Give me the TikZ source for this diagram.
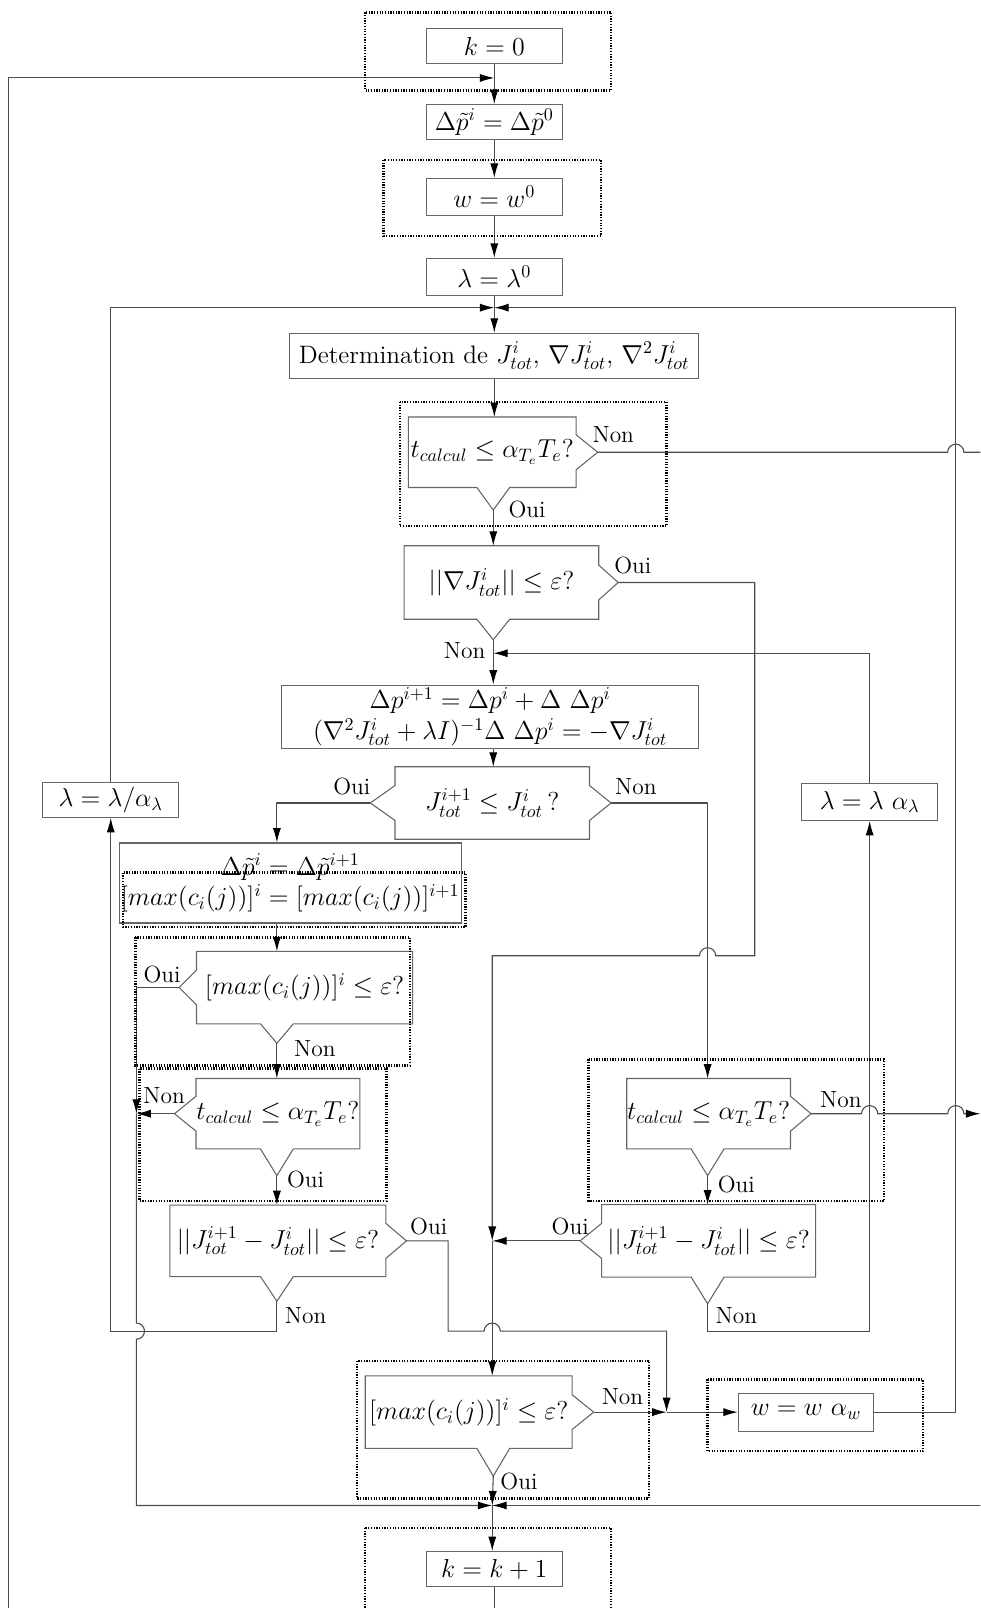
\documentclass[tikz,border=0pt]{standalone}
\usepackage{amsmath,amssymb}
\usetikzlibrary{arrows.meta}

% outline of a test box: pointers on the right, bottom and left side
\newcommand{\decout}[5]{%
  \path (#1.south -| #2) coordinate (#1bb);
  \coordinate (#1r) at ([xshift=#3*\pixu]#1.east);
  \coordinate (#1b) at ([yshift=-#4*\pixu]#1bb);
  \coordinate (#1l) at ([xshift=-#5*\pixu]#1.west);
  \draw[decline] (#1.north west) -- (#1.north east)
    -- ([yshift=17*\pixu]#1.east) -- (#1r) -- ([yshift=-17*\pixu]#1.east)
    -- (#1.south east) -- ([xshift=16*\pixu]#1bb) -- (#1b) -- ([xshift=-16*\pixu]#1bb)
    -- (#1.south west) -- ([yshift=-17*\pixu]#1.west) -- (#1l) -- ([yshift=17*\pixu]#1.west)
    -- cycle;}

\begin{document}
\begin{tikzpicture}[x=0.02cm, y=-0.02cm,
    txt/.style={font=\fontsize{14}{17}\selectfont},
    box/.style={txt, draw=black!60, line width=0.6pt, inner sep=1pt, align=center},
    dec/.style={txt, inner sep=0pt},
    decline/.style={draw=black!60, line width=0.6pt},
    lbl/.style={font=\fontsize{13}{15}\selectfont, inner sep=0pt},
    frame/.style={draw=black, line width=1.4pt, dash pattern=on 0.7pt off 0.8pt},
    line/.style={draw=black!70, line width=0.6pt},
    arr/.style={draw=black!70, line width=0.6pt, -{Latex[length=8pt,width=4.5pt,color=black]}}
]
% Dimensions
\def\pixu{0.02cm} % one pixel
\def\jr{4.5pt}    % jump radius

\useasboundingbox (0,0) rectangle (956,1568);
\clip (0,0) rectangle (956,1568);

% Columns and junctions
\coordinate (cL) at (270,0);
\coordinate (cM) at (481,0);
\coordinate (cR) at (690,0);
\coordinate (jk) at (482,76);
\coordinate (j1) at (482,300);
\coordinate (j3) at (481,637);
\coordinate (j2) at (480,1210);
\coordinate (j4) at (133,1086);
\coordinate (j6) at (650,1377);
\coordinate (j5) at (480,1468);
\coordinate (eT1) at (960,441);
\coordinate (eT3) at (956,1086);
\coordinate (eB) at (960,1468);

% Boxes
\node[box, minimum width=133*\pixu, minimum height=34*\pixu] (k0) at (482,45) {$k=0$};
\node[box, minimum width=133*\pixu, minimum height=34*\pixu] (dp0) at (482,119) {$\Delta\tilde{p}^i=\Delta\tilde{p}^0$};
\node[box, minimum width=133*\pixu, minimum height=36*\pixu] (w0) at (482,192) {$w=w^0$};
\node[box, minimum width=133*\pixu, minimum height=36*\pixu] (l0) at (482,270) {$\lambda=\lambda^0$};
\node[box, minimum width=399*\pixu, minimum height=44*\pixu] (det) at (482,347)
  {Determination de $J^i_{tot}$, $\nabla J^i_{tot}$, $\nabla^2 J^i_{tot}$};
\node[box, minimum width=407*\pixu, minimum height=62*\pixu] (newt) at (478,699)
  {$\Delta p^{i+1}=\Delta p^i+\Delta\ \Delta p^i$\\
   $(\nabla^2 J^i_{tot}+\lambda I)^{-1}\Delta\ \Delta p^i=-\nabla J^i_{tot}$};
\node[box, minimum width=332*\pixu, minimum height=78*\pixu] (upd) at (283,861)
  {$\Delta\tilde{p}^i=\Delta\tilde{p}^{i+1}$\\
   $[max(c_i(j))]^i=[max(c_i(j))]^{i+1}$};
\node[box, minimum width=133*\pixu, minimum height=34*\pixu] (lamD) at (108,780) {$\lambda=\lambda/\alpha_\lambda$};
\node[box, minimum width=133*\pixu, minimum height=36*\pixu] (lamM) at (848,782) {$\lambda=\lambda\ \alpha_\lambda$};
\node[box, minimum width=132*\pixu, minimum height=37*\pixu] (upw) at (786,1377) {$w=w\ \alpha_w$};
\node[box, minimum width=133*\pixu, minimum height=34*\pixu] (kk) at (482,1530) {$k=k+1$};

% Tests
\node[dec, minimum width=163*\pixu, minimum height=68*\pixu] (dT1) at (480,441) {$t_{calcul}\leq\alpha_{T_e}T_e?$};
\decout{dT1}{cM}{21}{22}{0}
\node[dec, minimum width=189*\pixu, minimum height=71*\pixu] (dG) at (489,568) {$||\nabla J^i_{tot}||\leq\varepsilon?$};
\decout{dG}{cM}{19}{20}{0}
\node[dec, minimum width=189*\pixu, minimum height=70*\pixu] (dJ) at (480,783) {$J^{i+1}_{tot}\leq J^i_{tot}\,?$};
\decout{dJ}{cM}{21}{0}{24}
\node[dec, minimum width=210*\pixu, minimum height=70*\pixu] (dM1) at (297,963) {$[max(c_i(j))]^i\leq\varepsilon?$};
\decout{dM1}{cL}{0}{19}{17}
\node[dec, minimum width=158*\pixu, minimum height=68*\pixu] (dT2) at (271,1086) {$t_{calcul}\leq\alpha_{T_e}T_e?$};
\decout{dT2}{cL}{0}{26}{21}
\node[dec, minimum width=210*\pixu, minimum height=69*\pixu] (dD1) at (271,1210) {$||J^{i+1}_{tot}-J^i_{tot}||\leq\varepsilon?$};
\decout{dD1}{cL}{20}{24}{0}
\node[dec, minimum width=159*\pixu, minimum height=68*\pixu] (dT3) at (691,1086) {$t_{calcul}\leq\alpha_{T_e}T_e?$};
\decout{dT3}{cR}{20}{26}{0}
\node[dec, minimum width=208*\pixu, minimum height=70*\pixu] (dD2) at (691,1210) {$||J^{i+1}_{tot}-J^i_{tot}||\leq\varepsilon?$};
\decout{dD2}{cR}{0}{26}{21}
\node[dec, minimum width=201*\pixu, minimum height=70*\pixu] (dM2) at (457,1377) {$[max(c_i(j))]^i\leq\varepsilon?$};
\decout{dM2}{cM}{21}{27}{0}

% Labels
\node[lbl] (nT1) at (598,424) {Non};
\node[lbl] (oT1) at (514,497) {Oui};
\node[lbl] (oG) at (617,551) {Oui};
\node[lbl] (nG) at (453,634) {Non};
\node[lbl] (oJ) at (343,767) {Oui};
\node[lbl] (nJ) at (620,767) {Non};
\node[lbl] (oM1) at (158,950) {Oui};
\node[lbl] (nM1) at (307,1023) {Non};
\node[lbl] (nT2) at (160,1068) {Non};
\node[lbl] (oT2) at (298,1150) {Oui};
\node[lbl] (oD1) at (418,1196) {Oui};
\node[lbl] (nD1) at (298,1283) {Non};
\node[lbl] (nT3) at (820,1072) {Non};
\node[lbl] (oT3) at (718,1155) {Oui};
\node[lbl] (oD2) at (556,1196) {Oui};
\node[lbl] (nD2) at (718,1283) {Non};
\node[lbl] (nM2) at (607,1362) {Non};
\node[lbl] (oM2) at (506,1445) {Oui};

% Main column
\draw[arr] (k0) -- (dp0);
\draw[arr] (dp0) -- (w0);
\draw[arr] (w0) -- (l0);
\draw[arr] (l0) -- (det);
\draw[arr] (det.south) -- (det.south |- dT1.north);
\draw[arr] (kk.south) -- ++(0,63) -| (8,76) -- (jk);
\draw[arr] (lamD.north) |- (j1);
\draw[arr] (upw.east) -| (932,300) -- (j1);

% Upper tests
\draw[line] (dT1r) -- ([xshift=-\jr]932,441) arc[start angle=180, end angle=0, radius=\jr] -- (eT1);
\draw[arr] (dT1b) -- (dG.north -| dT1b);
\draw[arr] (dGr) -| (736,932) -- ([xshift=\jr]690,932) arc[start angle=0, end angle=180, radius=\jr] -| (j2);
\draw[arr] (dGb) -- (newt.north -| dGb);
\draw[arr] (lamM.north) |- (j3);
\draw[arr] (newt.south -| cM) -- (dJ.north -| cM);
\draw[arr] (dJl) -| (upd.north -| cL);
\draw[arr] (dJr) -| (dT3.north -| cR);

% Left branch
\draw[arr] (upd.south -| cL) -- (dM1.north -| cL);
\draw[arr] (dM1l) -| (j4);
\draw[arr] (dT2l) -- (j4);
\draw[arr] (j4) -- ([yshift=\jr]133,1298) arc[start angle=90, end angle=-90, radius=\jr] |- (j5);
\draw[arr] (dM1b) -- (dT2.north -| cL);
\draw[arr] (dT2b) -- (dD1.north -| cL);
\draw[arr] (dD1r) -| (437,1298) -- ([xshift=-\jr]480,1298) arc[start angle=180, end angle=0, radius=\jr] -| (j6);
\draw[arr] (dD1b) |- (108,1298) -- (lamD.south);

% Right branch
\draw[arr] (dT3r) -- ([xshift=-\jr]848,1086) arc[start angle=180, end angle=0, radius=\jr]
  -- ([xshift=-\jr]932,1086) arc[start angle=180, end angle=0, radius=\jr] -- (eT3);
\draw[arr] (dT3b) -- (dD2.north -| cR);
\draw[arr] (dD2l) -- (j2);
\draw[arr] (dD2b) |- (848,1298) -- (lamM.south);

% Bottom
\draw[arr] (j2) -- (dM2.north -| j2);
\draw[arr] (dM2r) -- (j6);
\draw[arr] (j6) -- (upw);
\draw[arr] (dM2b) -- (j5);
\draw[arr] (eB) -- (j5);
\draw[arr] (j5) -- (kk.north -| j5);

% Dashed frames
\draw[frame] (356,12) rectangle (596,88);
\draw[frame] (374,156) rectangle (586,230);
\draw[frame] (390,392) rectangle (650,513);
\draw[frame] (120,851) rectangle (454,904);
\draw[frame] (132,914) rectangle (400,1039);
\draw[frame] (136,1042) rectangle (377,1171);
\draw[frame] (574,1033) rectangle (862,1171);
\draw[frame] (348,1327) rectangle (633,1461);
\draw[frame] (690,1345) rectangle (900,1415);
\draw[frame] (356,1490) rectangle (596,1600);

\end{tikzpicture}
\end{document}
